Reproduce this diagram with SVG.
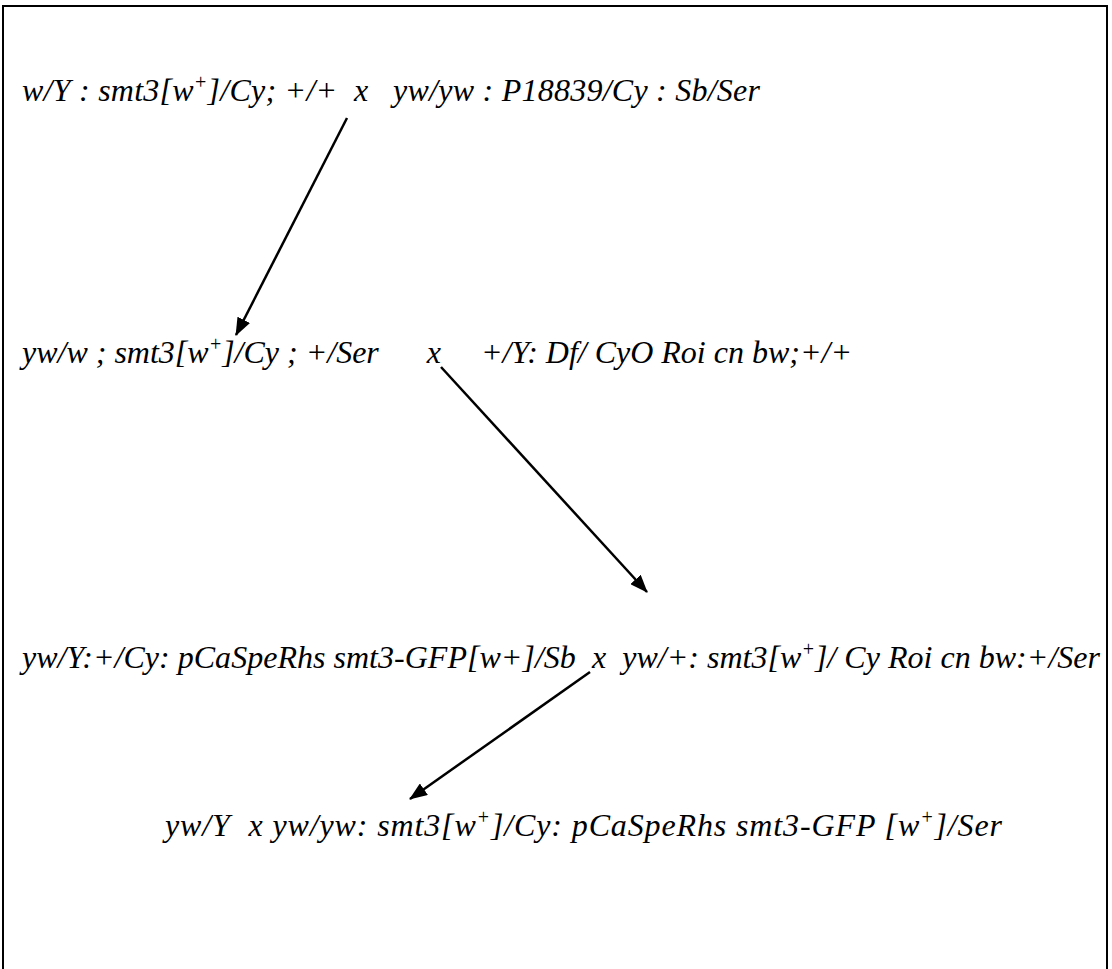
<svg xmlns="http://www.w3.org/2000/svg" width="1112" height="969" viewBox="0 0 1112 969">
<style>
.t{font-family:"Liberation Serif","Times New Roman",serif;font-style:italic;font-size:32px;fill:#000}
.sup{font-size:20px}
.c{stroke:#000;stroke-width:2.5;fill:none}
</style>
<defs>
<marker id="ah" viewBox="0 0 18 14" refX="17" refY="7" markerWidth="18" markerHeight="14" markerUnits="userSpaceOnUse" orient="auto">
<path d="M0,0 L18,7 L0,14 z" fill="#000"/>
</marker>
</defs>
<rect width="1112" height="969" fill="#fff"/>
<path d="M3,969 V6 H1107 V969" stroke="#000" stroke-width="2" fill="none"/>
<g id="cross1"><text class="t" x="22" y="101" xml:space="preserve" textLength="738" lengthAdjust="spacing">w/Y : smt3[w<tspan class="sup" dy="-12">+</tspan><tspan dy="12">]/Cy; +/+  x   yw/yw : P18839/Cy : Sb/Ser</tspan></text></g>
<g id="cross2"><text class="t" x="22" y="363" xml:space="preserve" textLength="830" lengthAdjust="spacing">yw/w ; smt3[w<tspan class="sup" dy="-12">+</tspan><tspan dy="12">]/Cy ; +/Ser      x     +/Y: Df/ CyO Roi cn bw;+/+</tspan></text></g>
<g id="cross3"><text class="t" x="22" y="668" xml:space="preserve" textLength="1078" lengthAdjust="spacing">yw/Y:+/Cy: pCaSpeRhs smt3-GFP[w+]/Sb  x  yw/+: smt3[w<tspan class="sup" dy="-12">+</tspan><tspan dy="12">]/ Cy Roi cn bw:+/Ser</tspan></text></g>
<g id="result"><text class="t" x="165" y="836" xml:space="preserve" textLength="837" lengthAdjust="spacing">yw/Y  x yw/yw: smt3[w<tspan class="sup" dy="-12">+</tspan><tspan dy="12">]/Cy: pCaSpeRhs smt3-GFP [w</tspan><tspan class="sup" dy="-12">+</tspan><tspan dy="12">]/Ser</tspan></text></g>
<g id="connectors">
<line class="c" x1="347" y1="118" x2="236" y2="335" marker-end="url(#ah)"/>
<line class="c" x1="441" y1="367" x2="647" y2="592" marker-end="url(#ah)"/>
<line class="c" x1="590" y1="672" x2="410" y2="799" marker-end="url(#ah)"/>
</g>
</svg>
